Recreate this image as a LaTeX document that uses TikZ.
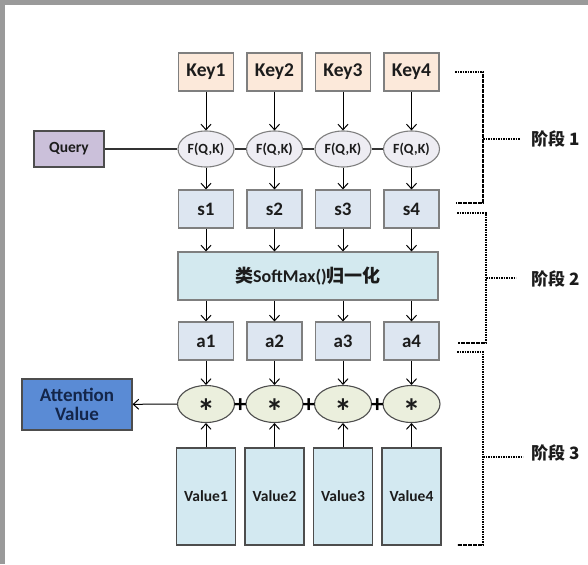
\documentclass[tikz,border=0pt]{standalone}
\usepackage{fontspec}
\setmainfont{Carlito}
\newfontfamily\cjk{Noto Sans CJK SC}
\usetikzlibrary{arrows.meta,shapes.geometric}
\definecolor{framegray}{HTML}{9A9A9A}
\definecolor{bordergray}{HTML}{7F7F7F}
\definecolor{darkborder}{HTML}{4D4D4D}
\definecolor{txt}{HTML}{1C1C1C}
\definecolor{keyfill}{HTML}{FCE9DA}
\definecolor{ffill}{HTML}{EEEDF3}
\definecolor{qfill}{HTML}{CBC0DA}
\definecolor{sfill}{HTML}{DDE6F1}
\definecolor{smfill}{HTML}{D3E9EF}
\definecolor{mfill}{HTML}{EBEFDD}
\definecolor{vfill}{HTML}{D3E9F1}
\definecolor{attfill}{HTML}{5A8BD5}
\definecolor{atttxt}{HTML}{14264A}
\tikzset{
  box/.style={draw=bordergray, line width=1.1pt, minimum width=55pt, minimum height=38pt, inner sep=0pt, text=txt, font=\fontsize{19.5}{19.5}\selectfont\bfseries},
  keybox/.style={box, fill=keyfill},
  sbox/.style={box, fill=sfill, font=\fontsize{19}{19}\selectfont\bfseries},
  fell/.style={ellipse, draw=bordergray, line width=1.1pt, fill=ffill, minimum width=56pt, minimum height=36pt, inner sep=0pt, text=txt, font=\fontsize{14}{14}\selectfont\bfseries},
  mell/.style={ellipse, draw=darkborder, line width=1.1pt, fill=mfill, minimum width=57pt, minimum height=37pt, inner sep=0pt},
  vbox/.style={box, draw=darkborder, fill=vfill, minimum width=59pt, minimum height=97pt, font=\fontsize{15.5}{15.5}\selectfont\bfseries},
  arr/.style={-{Straight Barb[length=5.5pt,width=10pt]}, line width=1pt, black},
  lnk/.style={line width=1.1pt, draw=black!80},
  brk/.style={line width=1.2pt, dash pattern=on 1.6pt off 0.9pt, black},
  stage/.style={anchor=west, inner sep=0pt, text=txt, font=\fontsize{17}{17}\selectfont\cjk\bfseries},
  starsym/.style={anchor=base, inner sep=0pt, text=txt, font=\fontsize{36}{36}\selectfont\bfseries},
  plus/.style={anchor=base, inner sep=0pt, text=black, font=\fontsize{25}{25}\selectfont\bfseries}
}
\begin{document}
\begin{tikzpicture}[x=1pt,y=-1pt]
\useasboundingbox (0,0) rectangle (588,564);
\fill[white] (0,0) rectangle (588,564);
\fill[framegray] (0,0) rectangle (588,5);
\fill[framegray] (0,0) rectangle (4.5,564);

% query and attention
\node[box, draw=darkborder, fill=qfill, minimum width=70pt, minimum height=36pt, font=\fontsize{15.5}{15.5}\selectfont\bfseries] (q) at (69,149) {Query};
\node[box, draw=darkborder, fill=attfill, minimum width=110pt, minimum height=51pt, text=atttxt, align=center, font=\fontsize{19}{19}\selectfont\bfseries] (att) at (77,404.5) {Attention\\Value};

% softmax
\node[box, fill=smfill, minimum width=260pt, minimum height=48pt, font=\fontsize{18}{18}\selectfont\bfseries] (sm) at (308,276) {{\cjk\bfseries 类}SoftMax(){\cjk\bfseries 归一化}};

\foreach \i/\x in {1/206,2/274.5,3/343,4/411.5}{
  \node[keybox] (k\i) at (\x,72) {Key\i};
  \node[fell] (f\i) at (\x,149) {F(Q,K)};
  \node[sbox] (s\i) at (\x,209) {s\i};
  \node[sbox] (a\i) at (\x,341) {a\i};
  \node[mell] (m\i) at (\x,404) {};
  \node[starsym] (st\i) at ([yshift=-20.5pt]m\i.center) {*};
  \node[vbox] (v\i) at (\x,496.5) {Value\i};
  \draw[arr] (k\i) -- (f\i);
  \draw[arr] (f\i) -- (s\i);
  \draw[arr] (s\i.south) -- (s\i.south |- sm.north);
  \draw[arr] (sm.south -| a\i.north) -- (a\i.north);
  \draw[arr] (a\i) -- (m\i);
  \draw[arr] (v\i) -- (m\i);
}
\draw[lnk] (q) -- (f1);
\draw[lnk] (f1) -- (f2);
\draw[lnk] (f2) -- (f3);
\draw[lnk] (f3) -- (f4);
\draw[arr] (m1) -- (att);
\path (m1.east) -- (m2.west) coordinate[midway] (c1);
\path (m2.east) -- (m3.west) coordinate[midway] (c2);
\path (m3.east) -- (m4.west) coordinate[midway] (c3);
\node[plus] (p1) at ([yshift=-8.5pt]c1) {+};
\node[plus] (p2) at ([yshift=-8.5pt]c2) {+};
\node[plus] (p3) at ([yshift=-8.5pt]c3) {+};

% stage brackets
\coordinate (b1a) at (455,72);  \coordinate (b1b) at (483,72);
\coordinate (b1c) at (483,203); \coordinate (b1d) at (456,203);
\coordinate (b1m) at (483,139); \coordinate (b1e) at (520,139);
\draw[brk] (b1a) -- (b1b) -- (b1c) -- (b1d);
\draw[brk] (b1m) -- (b1e);
\node[stage] (t1) at (531,139) {阶段 1};

\coordinate (b2a) at (457,213); \coordinate (b2b) at (486,213);
\coordinate (b2c) at (486,343); \coordinate (b2d) at (458,343);
\coordinate (b2m) at (486,278); \coordinate (b2e) at (516,278);
\draw[brk] (b2a) -- (b2b) -- (b2c) -- (b2d);
\draw[brk] (b2m) -- (b2e);
\node[stage] (t2) at (531,279) {阶段 2};

\coordinate (b3a) at (457,352); \coordinate (b3b) at (483,352);
\coordinate (b3c) at (483,545); \coordinate (b3d) at (457,545);
\coordinate (b3m) at (483,457); \coordinate (b3e) at (523,457);
\draw[brk] (b3a) -- (b3b) -- (b3c) -- (b3d);
\draw[brk] (b3m) -- (b3e);
\node[stage] (t3) at (531,453) {阶段 3};
\end{tikzpicture}
\end{document}
